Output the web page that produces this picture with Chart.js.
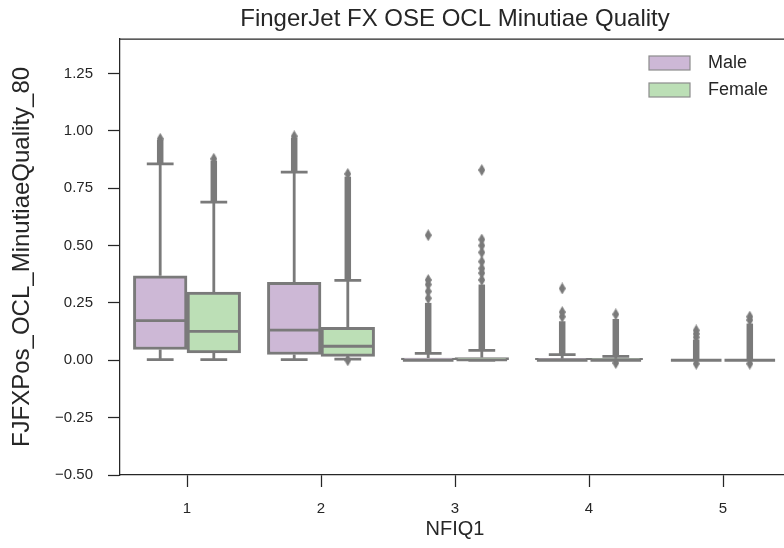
<!DOCTYPE html>
<html>
<head>
<meta charset="utf-8">
<title>FingerJet FX OSE OCL Minutiae Quality</title>
<script src="https://cdn.jsdelivr.net/npm/chart.js@4"></script>
<style>
  html, body { margin: 0; padding: 0; background: #fff; overflow: hidden; }
  #wrap { width: 784px; height: 548px; overflow: hidden; }
</style>
</head>
<body>
<div id="wrap"><canvas id="chart" width="800" height="548"></canvas></div>
<script>
// NFIQ1 classes and y axis ticks
const categories = ["1", "2", "3", "4", "5"];
const yTickValues = [-0.5, -0.25, 0, 0.25, 0.5, 0.75, 1.0, 1.25];
const yTickLabels = ["\u22120.50", "\u22120.25", "0.00", "0.25", "0.50", "0.75", "1.00", "1.25"];

// box stats per class (whisker low, q1, median, q3, whisker high)
const maleLo  = [0.003, 0.003, 0.0, 0.0, 0.0];
const maleQ1  = [0.047, 0.025, 0.0, 0.0, 0.0];
const maleMed = [0.173, 0.131, 0.0, 0.0, 0.0];
const maleQ3  = [0.368, 0.340, 0.010, 0.008, 0.0];
const maleHi  = [0.856, 0.820, 0.030, 0.025, 0.0];

const femaleLo  = [0.003, 0.005, 0.0, 0.0, 0.0];
const femaleQ1  = [0.032, 0.017, 0.0, 0.0, 0.0];
const femaleMed = [0.126, 0.061, 0.002, 0.0, 0.0];
const femaleQ3  = [0.297, 0.144, 0.012, 0.008, 0.0];
const femaleHi  = [0.689, 0.348, 0.043, 0.017, 0.0];

// fliers: dense stretches [from, to] and single points
const maleFlierRuns   = [[0.856, 0.96], [0.82, 0.97], [0.03, 0.25], [0.025, 0.17], [0.0, 0.09]];
const femaleFlierRuns = [[0.689, 0.87], [0.348, 0.80], [0.043, 0.33], [0.017, 0.18], [0.0, 0.16]];
const maleFliers = [
    [0.965],
    [0.976],
    [0.27, 0.30, 0.33, 0.35, 0.545],
    [0.19, 0.21, 0.313],
    [0.10, 0.115, 0.13, -0.015]
];
const femaleFliers = [
    [0.878],
    [0.812, 0.0],
    [0.35, 0.38, 0.40, 0.43, 0.47, 0.50, 0.526, 0.829],
    [0.20, -0.012],
    [0.175, 0.19, -0.015]
];

const MALE_FILL = "#cdb8d6";
const FEMALE_FILL = "#bcdfb6";
const LINE_GRAY = "#7a7a7a";
const TEXT = "#262626";
const FONT = "'Liberation Sans', Arial, sans-serif";
const HUE_OFFSET = 0.2; // male left, female right of the class centre
const BOX_PX = 53.6;    // 0.4 of a class slot

Chart.defaults.font.family = FONT;
Chart.defaults.color = TEXT;

function makeDiamond(w, h, color) {
    const c = document.createElement("canvas");
    c.width = w;
    c.height = h;
    const g = c.getContext("2d");
    g.fillStyle = color;
    g.beginPath();
    g.moveTo(w / 2, 0);
    g.lineTo(w, h / 2);
    g.lineTo(w / 2, h);
    g.lineTo(0, h / 2);
    g.closePath();
    g.fill();
    return c;
}
const diamond = makeDiamond(7, 12, LINE_GRAY);

function boxData(q1, q3, off) {
    return q1.map((q, i) => ({ x: i + off, y: [q, q3[i]] }));
}
function flierPoints(lists, off) {
    return lists.flatMap((vals, i) => vals.map(v => ({ x: i + off, y: v })));
}

const groups = [
    { off: -HUE_OFFSET, lo: maleLo, q1: maleQ1, med: maleMed, q3: maleQ3, hi: maleHi, runs: maleFlierRuns },
    { off: HUE_OFFSET, lo: femaleLo, q1: femaleQ1, med: femaleMed, q3: femaleQ3, hi: femaleHi, runs: femaleFlierRuns }
];

// whiskers, caps, medians and the dense flier stretches
const whiskerPlugin = {
    id: "whiskers",
    afterDatasetsDraw(chart) {
        const xs = chart.scales.x2, ys = chart.scales.y;
        const ctx = chart.ctx;
        ctx.save();
        ctx.strokeStyle = LINE_GRAY;
        ctx.lineCap = "butt";
        groups.forEach(g => {
            categories.forEach((c, i) => {
                const xc = xs.getPixelForValue(i + g.off);
                const capL = xs.getPixelForValue(i + g.off - 0.1);
                const capR = xs.getPixelForValue(i + g.off + 0.1);
                const boxL = xs.getPixelForValue(i + g.off - 0.2);
                const boxR = xs.getPixelForValue(i + g.off + 0.2);
                ctx.lineWidth = 2.8;
                ctx.beginPath();
                ctx.moveTo(xc, ys.getPixelForValue(g.q3[i]));
                ctx.lineTo(xc, ys.getPixelForValue(g.hi[i]));
                ctx.moveTo(xc, ys.getPixelForValue(g.q1[i]));
                ctx.lineTo(xc, ys.getPixelForValue(g.lo[i]));
                ctx.moveTo(capL, ys.getPixelForValue(g.hi[i]));
                ctx.lineTo(capR, ys.getPixelForValue(g.hi[i]));
                ctx.moveTo(capL, ys.getPixelForValue(g.lo[i]));
                ctx.lineTo(capR, ys.getPixelForValue(g.lo[i]));
                ctx.moveTo(boxL + 1.5, ys.getPixelForValue(g.med[i]));
                ctx.lineTo(boxR - 1.5, ys.getPixelForValue(g.med[i]));
                ctx.stroke();

                ctx.lineWidth = 6.5;
                ctx.beginPath();
                ctx.moveTo(xc, ys.getPixelForValue(g.runs[i][0]));
                ctx.lineTo(xc, ys.getPixelForValue(g.runs[i][1]));
                ctx.stroke();
            });
        });
        ctx.restore();
    }
};

// title over the axes, top/right spines and the legend inside the plot
const framePlugin = {
    id: "frame",
    afterDraw(chart) {
        const { ctx, chartArea } = chart;
        ctx.save();
        ctx.strokeStyle = TEXT;
        ctx.lineWidth = 1.25;
        ctx.beginPath();
        ctx.moveTo(chartArea.left, chartArea.top);
        ctx.lineTo(chartArea.right, chartArea.top);
        ctx.lineTo(chartArea.right, chartArea.bottom);
        ctx.stroke();

        ctx.fillStyle = TEXT;
        ctx.textAlign = "center";
        ctx.textBaseline = "middle";
        ctx.font = "24px " + FONT;
        ctx.fillText("FingerJet FX OSE OCL Minutiae Quality", (chartArea.left + chartArea.right) / 2, 19);

        const boxes = chart.data.datasets.filter(d => d.inLegend);
        const px = chartArea.right - 141;
        let py = chartArea.top + 17;
        ctx.font = "18px " + FONT;
        ctx.textAlign = "left";
        boxes.forEach(d => {
            ctx.fillStyle = d.backgroundColor;
            ctx.fillRect(px, py, 41, 14);
            ctx.strokeStyle = "#8c8c8c";
            ctx.lineWidth = 1.2;
            ctx.strokeRect(px, py, 41, 14);
            ctx.fillStyle = TEXT;
            ctx.fillText(d.label, px + 59, py + 7.5);
            py += 27;
        });
        ctx.restore();
    }
};

const tickGrid = {
    offset: false,
    drawOnChartArea: false,
    drawTicks: true,
    tickLength: 12,
    tickColor: TEXT,
    tickWidth: 1.25
};

new Chart(document.getElementById("chart"), {
    type: "bar",
    data: {
        labels: categories,
        datasets: [
            {
                label: "Male",
                inLegend: true,
                data: boxData(maleQ1, maleQ3, -HUE_OFFSET),
                backgroundColor: MALE_FILL,
                borderColor: LINE_GRAY,
                borderWidth: 3,
                borderSkipped: false,
                barThickness: BOX_PX,
                grouped: false,
                xAxisID: "x2"
            },
            {
                label: "Female",
                inLegend: true,
                data: boxData(femaleQ1, femaleQ3, HUE_OFFSET),
                backgroundColor: FEMALE_FILL,
                borderColor: LINE_GRAY,
                borderWidth: 3,
                borderSkipped: false,
                barThickness: BOX_PX,
                grouped: false,
                xAxisID: "x2"
            },
            {
                type: "scatter",
                label: "fliers",
                data: flierPoints(maleFliers, -HUE_OFFSET).concat(flierPoints(femaleFliers, HUE_OFFSET)),
                pointStyle: diamond,
                xAxisID: "x2"
            }
        ]
    },
    options: {
        responsive: false,
        animation: false,
        layout: { padding: { left: 0, right: 10, top: 39, bottom: 0 } },
        plugins: {
            legend: { display: false },
            tooltip: { enabled: false },
            title: { display: false }
        },
        scales: {
            x: {
                type: "category",
                offset: true,
                grid: tickGrid,
                border: { color: TEXT, width: 1.25 },
                ticks: { color: TEXT, font: { size: 15 }, padding: 13, maxRotation: 0 },
                title: {
                    display: true,
                    text: "NFIQ1",
                    color: TEXT,
                    font: { size: 20 },
                    padding: { top: 0, bottom: 7 }
                },
                afterFit: s => { s.height = 73; }
            },
            x2: {
                type: "linear",
                position: "bottom",
                offset: false,
                min: -0.5,
                max: 4.5,
                grid: { display: false, drawTicks: false },
                border: { display: false },
                ticks: { display: false },
                afterFit: s => { s.height = 0; }
            },
            y: {
                type: "linear",
                min: -0.5,
                max: 1.4,
                stacked: false,
                grid: tickGrid,
                border: { color: TEXT, width: 1.25 },
                afterBuildTicks: s => { s.ticks = yTickValues.map(v => ({ value: v })); },
                ticks: {
                    color: TEXT,
                    font: { size: 15 },
                    padding: 15,
                    callback: v => yTickLabels[yTickValues.indexOf(v)]
                },
                title: {
                    display: true,
                    text: "FJFXPos_OCL_MinutiaeQuality_80",
                    color: TEXT,
                    font: { size: 24 },
                    padding: { top: 8, bottom: 0 }
                },
                afterFit: s => { s.width = 120; }
            }
        }
    },
    plugins: [whiskerPlugin, framePlugin]
});
</script>
</body>
</html>
